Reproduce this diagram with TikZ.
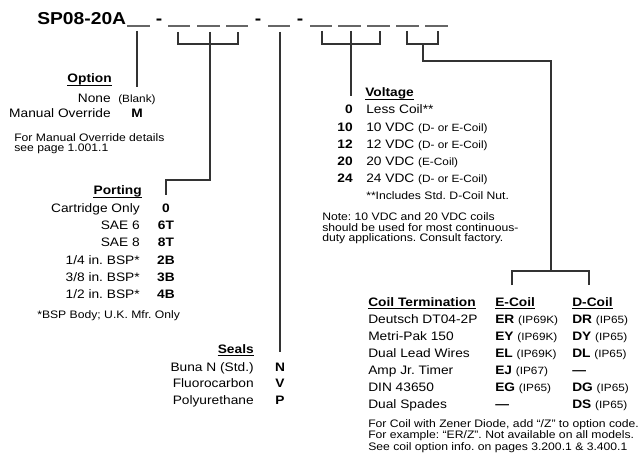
\documentclass[tikz,border=0pt]{standalone}
\usepackage{fontspec}
\setmainfont{Liberation Sans}[FakeStretch=1.12]
\newcommand\fbody{\fontsize{9.2}{11}\selectfont}
\newcommand\fsmall{\fontsize{7.9}{9.5}\selectfont}
\newcommand\ffoot{\fontsize{8.15}{9}\selectfont}
\newcommand\ftitle{\fontsize{12.9}{15}\selectfont\bfseries}
\frenchspacing
\begin{document}
\begin{tikzpicture}[x=0.75pt,y=-0.75pt,
  lt/.style={anchor=base west,inner sep=0,font=\fbody},
  rt/.style={anchor=base east,inner sep=0,font=\fbody},
  ct/.style={anchor=base,inner sep=0,font=\fbody\bfseries},
  rc/.style={anchor=base east,inner sep=0,font=\fbody\bfseries},
  hd/.style={inner sep=0,font=\fbody\bfseries},
  fn/.style={anchor=base west,inner sep=0,font=\ffoot},
  ul/.style={line width=0.9pt},
  conn/.style={line width=0.8pt,draw=black!80},
  blank/.style={line width=1.1pt,draw=black!60},
  hyph/.style={anchor=base,inner sep=0,font=\ftitle}]
\useasboundingbox (0,0) rectangle (641,459);
\fill[white] (0,0) rectangle (641,459);
% ---- part number ----
\node[anchor=base west,inner sep=0,font=\ftitle] (title) at (37,25) {SP08-20A};
\foreach \n/\a/\b in {1/127/150,2/168/190,3/197/220,4/226/248,5/268/290,6/310/332,7/338/361,8/367/390,9/396/419,10/425/448}{
  \coordinate (bl\n a) at (\a,26); \coordinate (bl\n b) at (\b,26);
  \draw[blank] (bl\n a) -- (bl\n b);
}
\node[hyph] (h1) at (159,25) {-};
\node[hyph] (h2) at (258,25) {-};
\node[hyph] (h3) at (300,25) {-};
% ---- Option ----
\node[hd,anchor=base east] (optH) at (112,83) {Option};
\draw[ul] ([yshift=-1.6pt]optH.base west) -- ([yshift=-1.6pt]optH.base east);
\node[rt] (optNone) at (111,103) {None};
\node[lt,font=\fsmall] (optBlank) at (118,103) {(Blank)};
\node[rt] (optMO) at (111,118) {Manual Override};
\node[ct] (optM) at (137,118) {M};
\node[fn] (optF1) at (14,142) {For Manual Override details};
\node[fn] (optF2) at (14,152) {see page 1.001.1};
\coordinate (optTop) at (137,31);
\coordinate (optEnd) at (137,87);
\draw[conn] (optTop) -- (optEnd);
% ---- Porting ----
\node[hd,anchor=base east] (portH) at (142,195) {Porting};
\draw[ul] ([yshift=-1.6pt]portH.base west) -- ([yshift=-1.6pt]portH.base east);
\foreach \i/\t/\c in {0/Cartridge Only/0,1/SAE 6/6T,2/SAE 8/8T,3/1\slash4 in. BSP*/2B,4/3\slash8 in. BSP*/3B,5/1\slash2 in. BSP*/4B}{
  \node[rt] (port\i) at (140,213+17*\i) {\t};
  \node[ct] (portc\i) at (166,213+17*\i) {\c};
}
\node[fn] (portF) at (37,318) {*BSP Body; U.K. Mfr. Only};
\coordinate (pbL) at (178,32); \coordinate (pbR) at (238,32); \coordinate (pbM) at (210,32);
\draw[conn] (pbL) -- (178,44) -- (238,44) -- (pbR);
\coordinate (pEnd) at (166,195);
\draw[conn] (pbM) -- (210,180) -- (166,180) -- (pEnd);
% ---- Seals ----
\node[hd,anchor=base east] (sealH) at (254,353) {Seals};
\draw[ul] ([yshift=-1.6pt]sealH.base west) -- ([yshift=-1.6pt]sealH.base east);
\node[rt] (seal0) at (254,371) {Buna N (Std.)};
\node[ct] (sealc0) at (280,371) {N};
\node[rt] (seal1) at (254,387) {Fluorocarbon};
\node[ct] (sealc1) at (280,387) {V};
\node[rt] (seal2) at (254,404) {Polyurethane};
\node[ct] (sealc2) at (280,404) {P};
\coordinate (sTop) at (280,32); \coordinate (sEnd) at (280,352);
\draw[conn] (sTop) -- (sEnd);
% ---- Voltage ----
\node[hd,anchor=base west] (voltH) at (365,97) {Voltage};
\draw[ul] ([yshift=-1.6pt]voltH.base west) -- ([yshift=-1.6pt]voltH.base east);
\node[rc] (vc0) at (353,114) {0};
\node[lt] (v0) at (366,114) {Less Coil**};
\node[rc] (vc1) at (353,131.5) {10};
\node[lt] (v1) at (366,131.5) {10 VDC {\fsmall(D- or E-Coil)}};
\node[rc] (vc2) at (353,149) {12};
\node[lt] (v2) at (366,149) {12 VDC {\fsmall(D- or E-Coil)}};
\node[rc] (vc3) at (353,166) {20};
\node[lt] (v3) at (366,166) {20 VDC {\fsmall(E-Coil)}};
\node[rc] (vc4) at (353,183) {24};
\node[lt] (v4) at (366,183) {24 VDC {\fsmall(D- or E-Coil)}};
\node[fn] (vF) at (366,200) {**Includes Std. D-Coil Nut.};
\node[fn] (vN1) at (322,221) {Note: 10 VDC and 20 VDC coils};
\node[fn] (vN2) at (322,231.5) {should be used for most continuous-};
\node[fn] (vN3) at (322,242) {duty applications. Consult factory.};
\coordinate (vbL) at (322,31); \coordinate (vbR) at (380,31); \coordinate (vbM) at (351,31);
\draw[conn] (vbL) -- (322,44) -- (380,44) -- (vbR);
\coordinate (vEnd) at (351,96);
\draw[conn] (vbM) -- (vEnd);
% ---- Coil termination ----
\node[hd,anchor=base west] (ctH) at (368,306) {Coil Termination};
\draw[ul] ([yshift=-1.6pt]ctH.base west) -- ([yshift=-1.6pt]ctH.base east);
\node[hd,anchor=base west] (eH) at (495,306) {E-Coil};
\draw[ul] ([yshift=-1.6pt]eH.base west) -- ([yshift=-1.6pt]eH.base east);
\node[hd,anchor=base west] (dH) at (572,306) {D-Coil};
\draw[ul] ([yshift=-1.6pt]dH.base west) -- ([yshift=-1.6pt]dH.base east);
\foreach \i/\t/\e/\d in {0/Deutsch DT04-2P/{\textbf{ER} {\fsmall(IP69K)}}/{\textbf{DR} {\fsmall(IP65)}},
  1/Metri-Pak 150/{\textbf{EY} {\fsmall(IP69K)}}/{\textbf{DY} {\fsmall(IP65)}},
  2/Dual Lead Wires/{\textbf{EL} {\fsmall(IP69K)}}/{\textbf{DL} {\fsmall(IP65)}},
  3/Amp Jr. Timer/{\textbf{EJ} {\fsmall(IP67)}}/{\textbf{---}},
  4/DIN 43650/{\textbf{EG} {\fsmall(IP65)}}/{\textbf{DG} {\fsmall(IP65)}},
  5/Dual Spades/{\textbf{---}}/{\textbf{DS} {\fsmall(IP65)}}}{
  \node[lt] (ct\i) at (368,323+17*\i) {\t};
  \node[lt] (ce\i) at (495,323+17*\i) {\e};
  \node[lt] (cd\i) at (572,323+17*\i) {\d};
}
\node[fn] (cF1) at (368,427) {For Coil with Zener Diode, add ``/Z'' to option code.};
\node[fn] (cF2) at (368,438.5) {For example: ``ER/Z''. Not available on all models.};
\node[fn] (cF3) at (368,450) {See coil option info. on pages 3.200.1 \& 3.400.1};
\coordinate (cbL) at (407,31); \coordinate (cbR) at (438,31);
\draw[conn] (cbL) -- (407,44) -- (438,44) -- (cbR);
\coordinate (cbM) at (423,44);
\coordinate (cE) at (512,285); \coordinate (cD) at (589,285);
\draw[conn] (cbM) -- (423,61) -- (551,61) -- (551,271);
\draw[conn] (cE) -- (512,271) -- (589,271) -- (cD);
\end{tikzpicture}
\end{document}
